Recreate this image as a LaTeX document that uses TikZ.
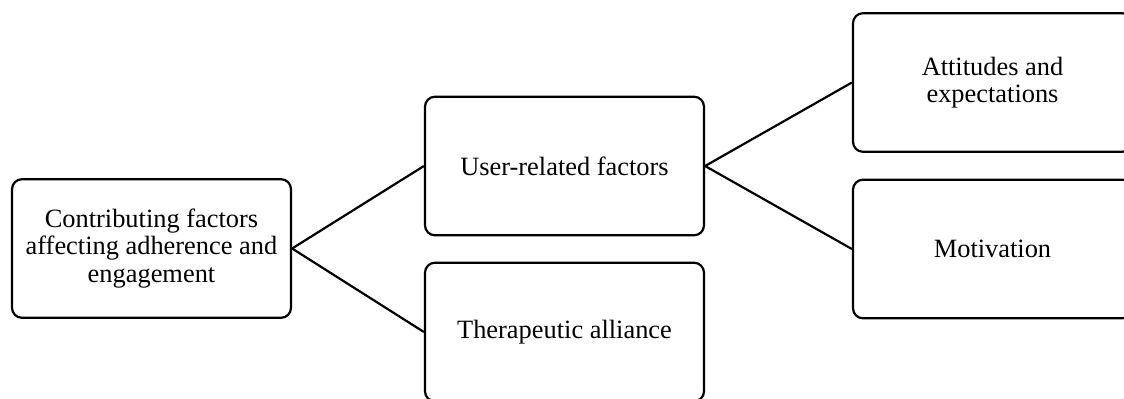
\documentclass[tikz,border=0pt]{standalone}
\usepackage{fontspec}
\setmainfont{Liberation Serif}
\begin{document}
\begin{tikzpicture}[x=0.5pt,y=-0.5pt,
  box/.style={draw=black, line width=1.1pt, rounded corners=5pt, minimum width=139.5pt, minimum height=69.3pt, inner sep=0pt, align=center, font=\fontsize{13.2pt}{13.8pt}\selectfont},
  link/.style={draw=black, line width=1.1pt}]
\useasboundingbox (0,0) rectangle (1124,398);
\clip (0,0) rectangle (1124,398);
\node[box] (root) at (151.5,248.5) {Contributing factors\\affecting adherence and\\engagement};
\node[box] (user) at (564.5,166) {User-related factors};
\node[box] (ther) at (564.5,332) {Therapeutic alliance};
\node[box] (att) at (992.5,82.5) {Attitudes and\\expectations};
\node[box] (mot) at (992.5,249) {Motivation};
\draw[link] (root.east) -- (user.west);
\draw[link] (root.east) -- (ther.west);
\draw[link] (user.east) -- (att.west);
\draw[link] (user.east) -- (mot.west);
\end{tikzpicture}
\end{document}
